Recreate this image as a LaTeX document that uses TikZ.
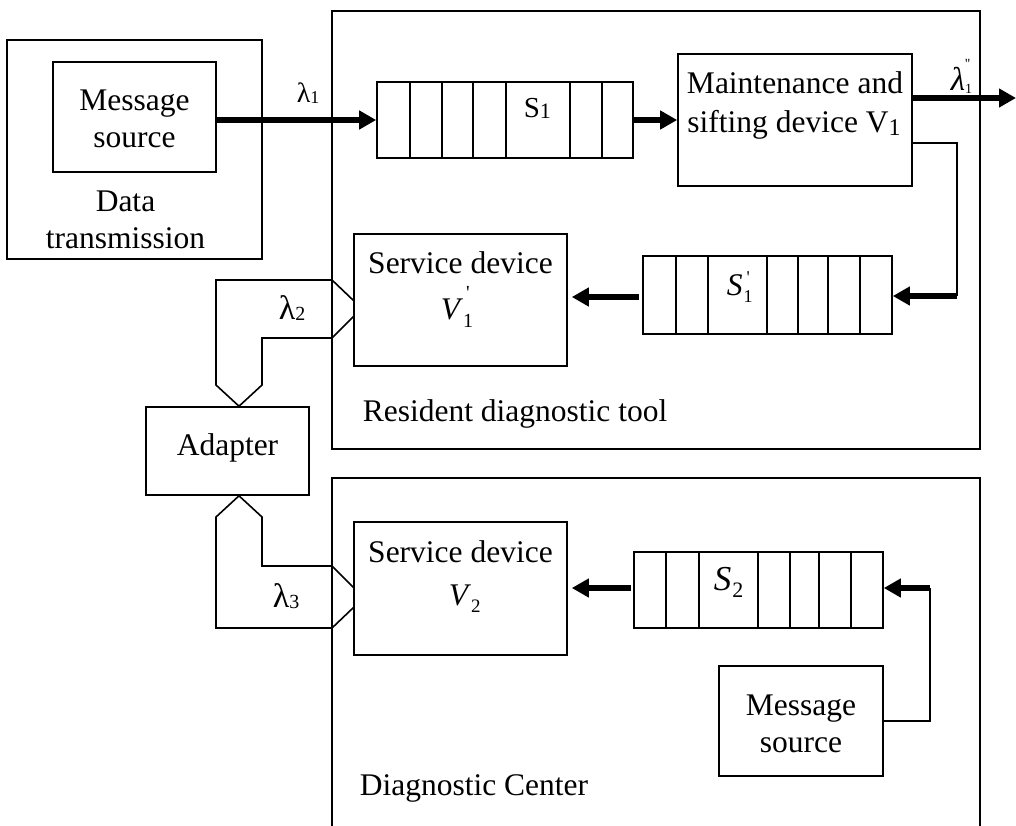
\documentclass[tikz,border=0pt]{standalone}
\usepackage{fontspec}
\setmainfont{Liberation Serif}
\usetikzlibrary{arrows.meta}

% font size helper
\newcommand\fs[1]{\fontsize{#1}{#1}\selectfont}
% symbol with subscript only: base, sub, size of sub, drop of sub
\newcommand\subonly[4]{#1\raisebox{-#4pt}{\fs{#3}#2}}
% symbol with subscript and superscript stacked:
% base, sub, sup, size, sub drop, sup raise
\newcommand\subsup[6]{#1\makebox[0pt][l]{\raisebox{#6pt}{\fs{#4}#3}}\raisebox{-#5pt}{\fs{#4}#2}}

\begin{document}
\begin{tikzpicture}[x=1pt,y=-1pt,line width=1.6pt,
  box/.style={draw,line width=1.6pt,inner sep=0pt,rectangle},
  lb/.style={inner sep=0pt,anchor=base,font=\fs{31.5}},
  lbw/.style={inner sep=0pt,anchor=base west,font=\fs{31.5}},
  flow/.style={line width=5.5pt,-{Triangle[length=17pt,width=18pt]}},
  thin/.style={line width=1.6pt},
]
\useasboundingbox (0,0) rectangle (1016,825);

% ---- boxes ----
\node[box,minimum width=255pt,minimum height=219pt] (dt) at (134.5,149.5) {};
\node[box,minimum width=163pt,minimum height=110pt] (msg1) at (134.5,117) {};
\node[box,minimum width=648pt,minimum height=438pt] (res) at (656,230) {};
\node[box,minimum width=256pt,minimum height=76pt] (q1) at (505,120) {};
\node[box,minimum width=234pt,minimum height=132pt] (v1) at (795,120) {};
\node[box,minimum width=249pt,minimum height=78pt] (q1p) at (767.5,295) {};
\node[box,minimum width=213pt,minimum height=132pt] (v1p) at (460.5,300) {};
\node[box,minimum width=163pt,minimum height=88pt] (adp) at (227.5,451) {};
\node[box,minimum width=213pt,minimum height=133pt] (v2) at (460.5,588.5) {};
\node[box,minimum width=249pt,minimum height=76pt] (q2) at (758.5,590) {};
\node[box,minimum width=164pt,minimum height=110pt] (msg2) at (801,721) {};

% diagnostic centre frame, open at the bottom
\draw[thin] (332,827) -- (332,478) -- (980,478) -- (980,827);

% ---- queue cells ----
\foreach \x in {410,442,473,506,570,602}{
  \coordinate (t) at (\x,0);
  \draw[thin] (q1.north -| t) -- (q1.south -| t);
}
\foreach \x in {676,708,767,798,828,860}{
  \coordinate (t) at (\x,0);
  \draw[thin] (q1p.north -| t) -- (q1p.south -| t);
}
\foreach \x in {666,699,758,790,819,851}{
  \coordinate (t) at (\x,0);
  \draw[thin] (q2.north -| t) -- (q2.south -| t);
}

% ---- texts ----
\node[lb] (m1a) at (134.5,110) {Message};
\node[lb] (m1b) at (134.5,147) {source};
\node[lb] (dta) at (125.5,211) {Data};
\node[lb] (dtb) at (125.5,248) {transmission};
\node[lb] (v1a) at (795,93) {Maintenance and};
\node[lb] (v1b) at (794,132) {sifting device V\raisebox{-3pt}{\fs{24}1}};
\node[lb] (v1pa) at (460.5,273) {Service device};
\node[lbw] (v1pb) at (440,319) {\subsup{\textit{V}}{1}{\kern3pt\textquotesingle}{20}{8}{20}};
\node[lbw] (resl) at (362,421) {Resident diagnostic tool};
\node[lb] (adpl) at (227.5,455) {Adapter};
\node[lb] (v2a) at (460.5,562) {Service device};
\node[lbw] (v2b) at (448,605) {\subonly{\textit{V}}{2}{19}{7}};
\node[lb] (m2a) at (801,715) {Message};
\node[lb] (m2b) at (801,752) {source};
\node[lbw] (dcl) at (359,795) {Diagnostic Center};

\node[lbw] (s1l) at (523,117) {\fs{29}\subonly{S}{1}{22}{1}};
\node[lbw] (s1pl) at (726,295) {\subsup{\textit{S}\kern1pt}{1}{\kern3pt\textquotesingle}{18}{7}{12}};
\node[lbw] (s2l) at (713,590) {\fs{35}\subonly{\textit{S}\kern1pt}{2}{22}{7}};

\node[lbw] (lam1) at (296,102) {\fs{28}\subonly{λ}{1}{18}{1}};
\node[lbw] (lam1pp) at (950,90) {\fs{33}\subsup{\textit{λ}}{1}{\textquotesingle\textquotesingle}{14}{3}{22}};
\node[lbw] (lam2) at (278,319) {\fs{34}\subonly{λ}{2}{20}{1}};
\node[lbw] (lam3) at (272,607) {\fs{34}\subonly{λ}{3}{20}{1}};

% ---- connectors ----
\draw[flow] (msg1.east |- q1.west) -- (q1.west);
\draw[flow] (q1.east) -- (v1.west);
\coordinate (out) at (1016,98);
\draw[flow] (v1.east |- out) -- (out);

\coordinate (fb1) at (957,143);
\coordinate (fb2) at (957,296);
\draw[thin] (v1.east |- fb1) -- (fb1) -- (fb2);
\draw[flow] (fb2) -- (fb2 -| q1p.east);

\coordinate (r1) at (0,297);
\draw[flow,shorten <=3pt,shorten >=4pt] (q1p.west |- r1) -- (v1p.east |- r1);
\coordinate (r2) at (0,588);
\draw[flow,shorten <=2pt,shorten >=4pt] (q2.west |- r2) -- (v2.east |- r2);

\coordinate (sb1) at (930,721);
\coordinate (sb2) at (930,588);
\draw[thin] (msg2.east |- sb1) -- (sb1) -- (sb2);
\draw[flow] (sb2) -- (sb2 -| q2.east);

% double-line channels between the adapter and the service devices
\coordinate (a2) at (239,0);
\draw[thin,line join=miter] (354,301) -- (332,280) -- (216,280) -- (216,385)
  -- (adp.north -| a2) -- (262,385) -- (262,338) -- (332,338) -- (354,316);
\draw[thin,line join=miter] (354,588) -- (332,566) -- (262,566) -- (262,517)
  -- (adp.south -| a2) -- (216,517) -- (216,628) -- (332,628) -- (354,607);
\end{tikzpicture}
\end{document}
